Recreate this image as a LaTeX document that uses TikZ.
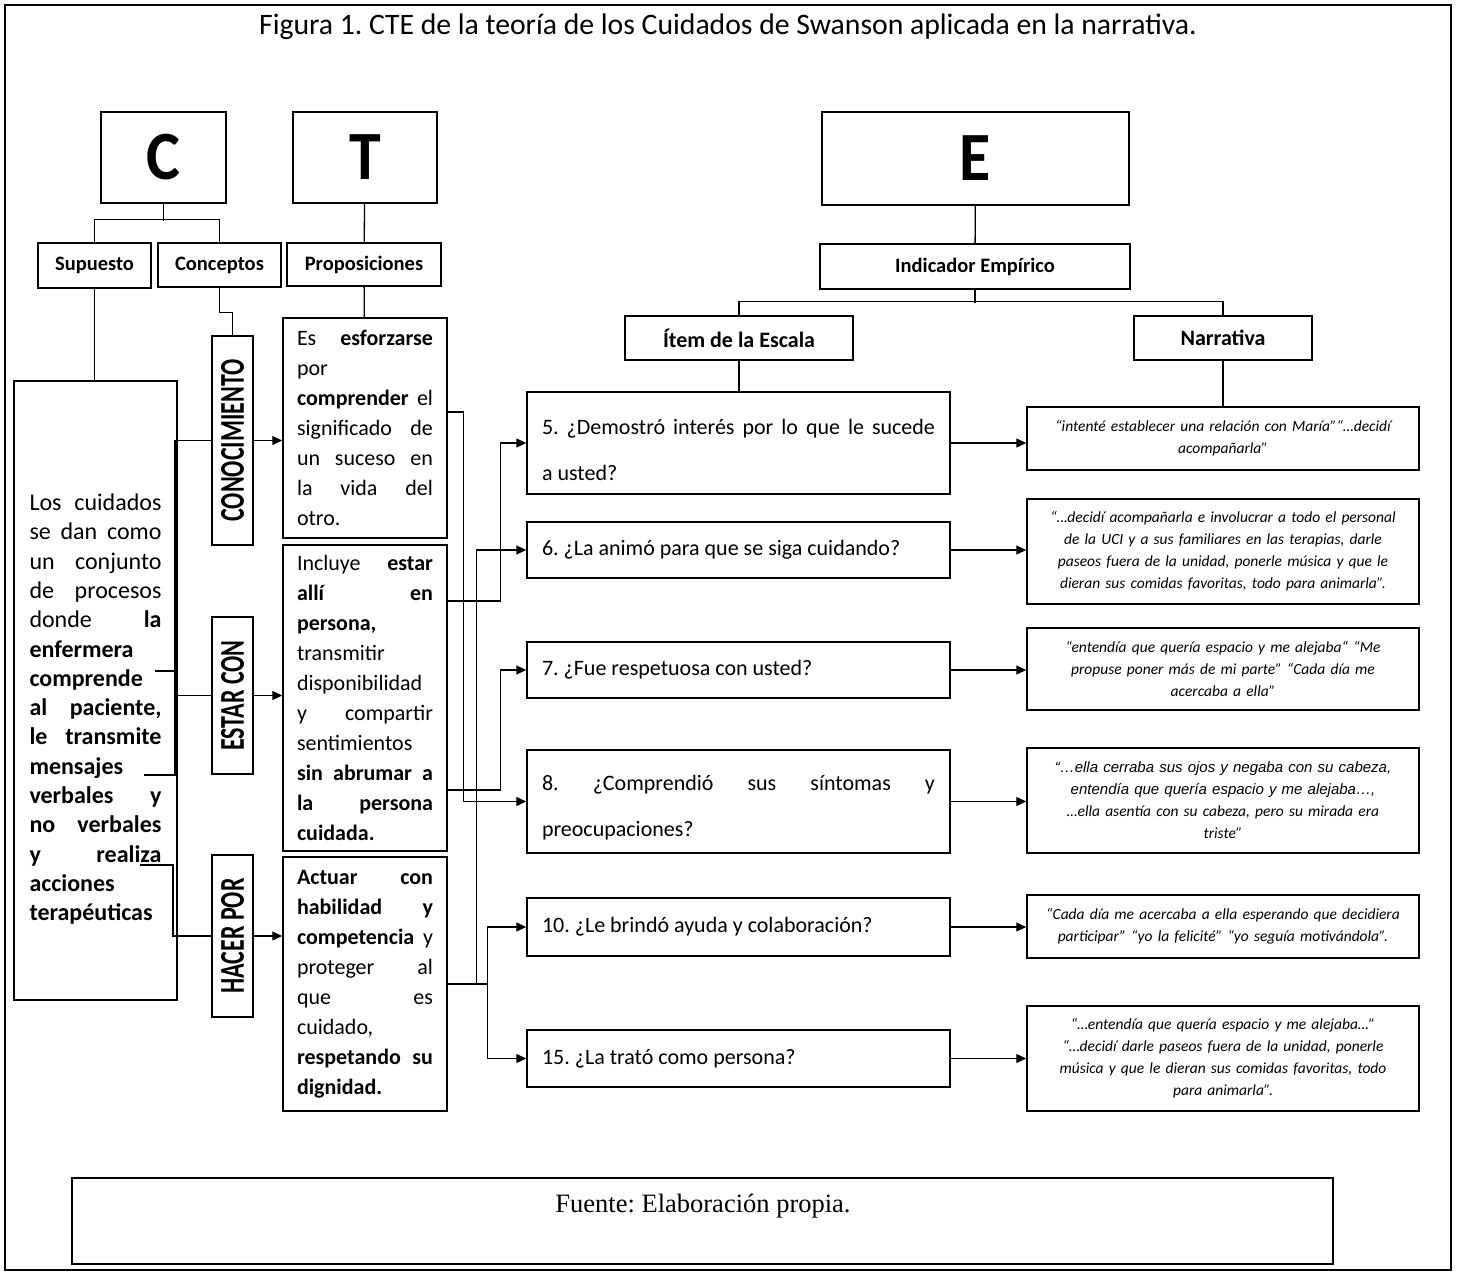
\documentclass[tikz,border=0pt]{standalone}
\usepackage{fontspec}
\setmainfont{Carlito}
\newfontfamily\serifont{Liberation Serif}
\newfontfamily\arialfont{Liberation Sans}
\usetikzlibrary{arrows.meta}
\tolerance=10000 \hyphenpenalty=10000
\frenchspacing

\begin{document}
\begin{tikzpicture}[x=1pt,y=-1pt,
  box/.style={draw,line width=1.5pt,inner sep=0pt},
  big/.style={box,font=\bfseries\fontsize{64}{70}\selectfont},
  hdr/.style={box,font=\bfseries\fontsize{20.5}{24}\selectfont},
  conc/.style={box,minimum width=41pt,font=\bfseries\fontsize{24}{24}\selectfont},
  propbox/.style={box,text width=136pt,inner xsep=14pt,align=justify,font=\fontsize{22}{30}\selectfont},
  itembox/.style={box,text width=393pt,inner xsep=15pt,align=justify,font=\fontsize{22}{46}\selectfont},
  narrbox/.style={box,text width=372pt,inner xsep=10pt,align=center,font=\itshape\fontsize{15.5}{22}\selectfont},
  conn/.style={line width=1.3pt},
  arr/.style={conn,-{Triangle[length=10pt,width=9pt]}}]
  \useasboundingbox (0,0) rectangle (1459,1275);
  \draw[line width=1.5pt] (5,5) rectangle (1451,1270);
  \node[font=\fontsize{29.7}{32}\selectfont] (title) at (728,27) {Figura 1. CTE de la teoría de los Cuidados de Swanson aplicada en la narrativa.};

  % C, T and E
  \node[big,minimum width=125pt,minimum height=91pt] (C) at (163.5,157.5) {\scalebox{1}[1.08]{C}};
  \node[big,minimum width=144pt,minimum height=91pt] (T) at (365,157.5) {\scalebox{1}[1.08]{T}};
  \node[big,minimum width=307pt,minimum height=93pt] (E) at (975.5,158.5) {\scalebox{1}[1.08]{E}};
  \node[hdr,minimum width=113pt,minimum height=45pt] (sup) at (94.5,265.5) {Supuesto};
  \node[hdr,minimum width=123pt,minimum height=44pt] (con) at (219.5,265) {Conceptos};
  \node[hdr,minimum width=154pt,minimum height=43pt] (pro) at (364,264.5) {Proposiciones};
  \node[hdr,minimum width=310pt,minimum height=45pt] (ind) at (975,266.5) {Indicador Empírico};
  \node[hdr,font=\bfseries\fontsize{22}{24}\selectfont,minimum width=228pt,minimum height=44pt] (item) at (739,338) {Ítem de la Escala};
  \node[hdr,font=\bfseries\fontsize{22}{24}\selectfont,minimum width=178pt,minimum height=44pt] (narr) at (1223,338) {Narrativa};

  % supuesto
  \node[box,text width=132pt,inner xsep=15.5pt,align=justify,minimum height=619pt,font=\fontsize{24}{29.3}\selectfont] (suptxt) at (95.5,690.5)
    {\rule{0pt}{54pt}Los cuidados\linebreak se dan como\linebreak un conjunto\linebreak de procesos\linebreak donde \textbf{la}\linebreak \textbf{enfermera}\linebreak \textbf{comprende}\linebreak \textbf{al paciente,}\linebreak \textbf{le transmite}\linebreak \textbf{mensajes}\linebreak \textbf{verbales y}\linebreak \textbf{no verbales}\linebreak \textbf{y realiza}\linebreak \textbf{acciones}\linebreak \textbf{terapéuticas}};

  % conceptos
  \node[conc,minimum height=209pt] (k1) at (232.5,440.5) {\rotatebox{90}{\scalebox{1}[1.45]{CONOCIMIENTO}}};
  \node[conc,minimum height=157pt] (k2) at (232.5,695.5) {\rotatebox{90}{\scalebox{1}[1.45]{ESTAR CON}}};
  \node[conc,minimum height=162pt] (k3) at (232.5,936) {\rotatebox{90}{\scalebox{1}[1.45]{HACER POR}}};

  % proposiciones
  \node[propbox,minimum height=220pt] (p1) at (365,428)
    {Es \textbf{esforzarse}\linebreak por\linebreak \textbf{comprender} el\linebreak significado de\linebreak un suceso en\linebreak la vida del\linebreak otro.};
  \node[propbox,minimum height=306pt] (p2) at (365,698)
    {Incluye \textbf{estar}\linebreak \textbf{allí en}\linebreak \textbf{persona,}\linebreak transmitir\linebreak disponibilidad\linebreak y compartir\linebreak sentimientos\linebreak \textbf{sin abrumar a}\linebreak \textbf{la persona}\linebreak \textbf{cuidada.}};
  \node[propbox,minimum height=254pt] (p3) at (365,984)
    {\textbf{Actuar con}\linebreak \textbf{habilidad y}\linebreak \textbf{competencia} y\linebreak proteger al\linebreak que es\linebreak cuidado,\linebreak \textbf{respetando su}\linebreak \textbf{dignidad.}};

  % items de la escala
  \node[itembox,minimum height=102pt] (i5) at (738.5,443) {\rule{0pt}{30pt}5. ¿Demostró interés por lo que le sucede\linebreak a usted?};
  \node[itembox,minimum height=56pt] (i6) at (738.5,550) {6. ¿La animó para que se siga cuidando?};
  \node[itembox,minimum height=56pt] (i7) at (738.5,670) {7. ¿Fue respetuosa con usted?};
  \node[itembox,minimum height=103pt] (i8) at (738.5,801.5) {\rule{0pt}{28pt}8. ¿Comprendió sus síntomas y\linebreak preocupaciones?};
  \node[itembox,minimum height=58pt] (i10) at (738.5,927) {10. ¿Le brindó ayuda y colaboración?};
  \node[itembox,minimum height=57pt] (i15) at (738.5,1058.5) {15. ¿La trató como persona?};

  % narrativa
  \node[narrbox,minimum height=63pt] (n1) at (1223,438.5) {“intenté establecer una relación con María”“…decidí\\ acompañarla”};
  \node[narrbox,minimum height=105pt] (n2) at (1223,551.5) {“…decidí acompañarla e involucrar a todo el personal\\ de la UCI y a sus familiares en las terapias, darle\\ paseos fuera de la unidad, ponerle música y que le\\ dieran sus comidas favoritas, todo para animarla”.};
  \node[narrbox,minimum height=82pt] (n3) at (1223,669) {“entendía que quería espacio y me alejaba“ “Me\\ propuse poner más de mi parte” “Cada día me\\ acercaba a ella”};
  \node[narrbox,minimum height=105pt] (n4) at (1223,800.5) {{\arialfont\fontsize{15}{22}\selectfont “…ella cerraba sus ojos y negaba con su cabeza,}\\ {\arialfont\fontsize{15}{22}\selectfont entendía que quería espacio y me alejaba…,}\\ …ella asentía con su cabeza, pero su mirada era\\ triste”};
  \node[narrbox,minimum height=63pt] (n5) at (1223,926.5) {“Cada día me acercaba a ella esperando que decidiera\\ participar” “yo la felicité” “yo seguía motivándola”.};
  \node[narrbox,minimum height=105pt] (n6) at (1223,1058.5) {“…entendía que quería espacio y me alejaba…”\\ “…decidí darle paseos fuera de la unidad, ponerle\\ música y que le dieran sus comidas favoritas, todo\\ para animarla”.};

  % fuente
  \node[box,minimum width=1261pt,minimum height=86pt] (fbox) at (702.5,1221) {};
  \node[font=\serifont\fontsize{26.5}{30}\selectfont] (fuente) at (703,1206) {Fuente: Elaboración propia.};

  % tree lines
  \draw[conn] (C.south) -- ++(0,17); \draw[conn] (sup.north) -- ++(0,-23) -| (con.north);
  \draw[conn] (T) -- (pro); \draw[conn] (pro) -- (p1);
  \draw[conn] (sup.south) -- (sup.south |- suptxt.north);
  \draw[conn] (con.south) -- ++(0,25) -| (k1.north);
  \draw[conn] (E) -- (ind); \draw[conn] (ind.south) -- ++(0,13);
  \draw[conn] (item.north) -- ++(0,-14) -| (narr.north);
  \draw[conn] (item.south) -- (item.south |- i5.north); \draw[conn] (narr) -- (n1);

  % supuesto to conceptos
  \coordinate (s2) at (155,671); \coordinate (s3) at (144,775); \coordinate (s5) at (140,865); \coordinate (sj) at (175,775);
  \draw[conn] (k1.west) -| (sj) -- (s3); \draw[conn] (s2) -- (s2 -| sj); \draw[conn] (k2.west) -- (k2.west -| sj);
  \draw[conn] (s5) -- ++(33,0) |- (k3.west);
  \draw[arr] (k1.east) -- (k1.east -| p1.west); \draw[arr] (k2.east) -- (k2.east -| p2.west); \draw[arr] (k3.east) -- (k3.east -| p3.west);

  % proposiciones to items
  \draw[arr] ([yshift=16pt]p1.east) -- ++(16,0) |- (i8.west);
  \draw[arr] ([yshift=97pt]p2.east) -- ++(53,0) |- (i5.west);
  \draw[arr] ([yshift=-92pt]p2.east) -- ++(53,0) |- (i7.west);
  \draw[arr] (p3.east) -- ++(29,0) |- (i6.west);
  \draw[arr] (p3.east) -- ++(40,0) |- (i10.west); \draw[arr] (p3.east) -- ++(40,0) |- (i15.west);

  % items to narrativa
  \foreach \a/\b in {i5/n1,i6/n2,i7/n3,i8/n4,i10/n5,i15/n6}
    \draw[arr] (\a.east) -- (\a.east -| \b.west);
\end{tikzpicture}
\end{document}
